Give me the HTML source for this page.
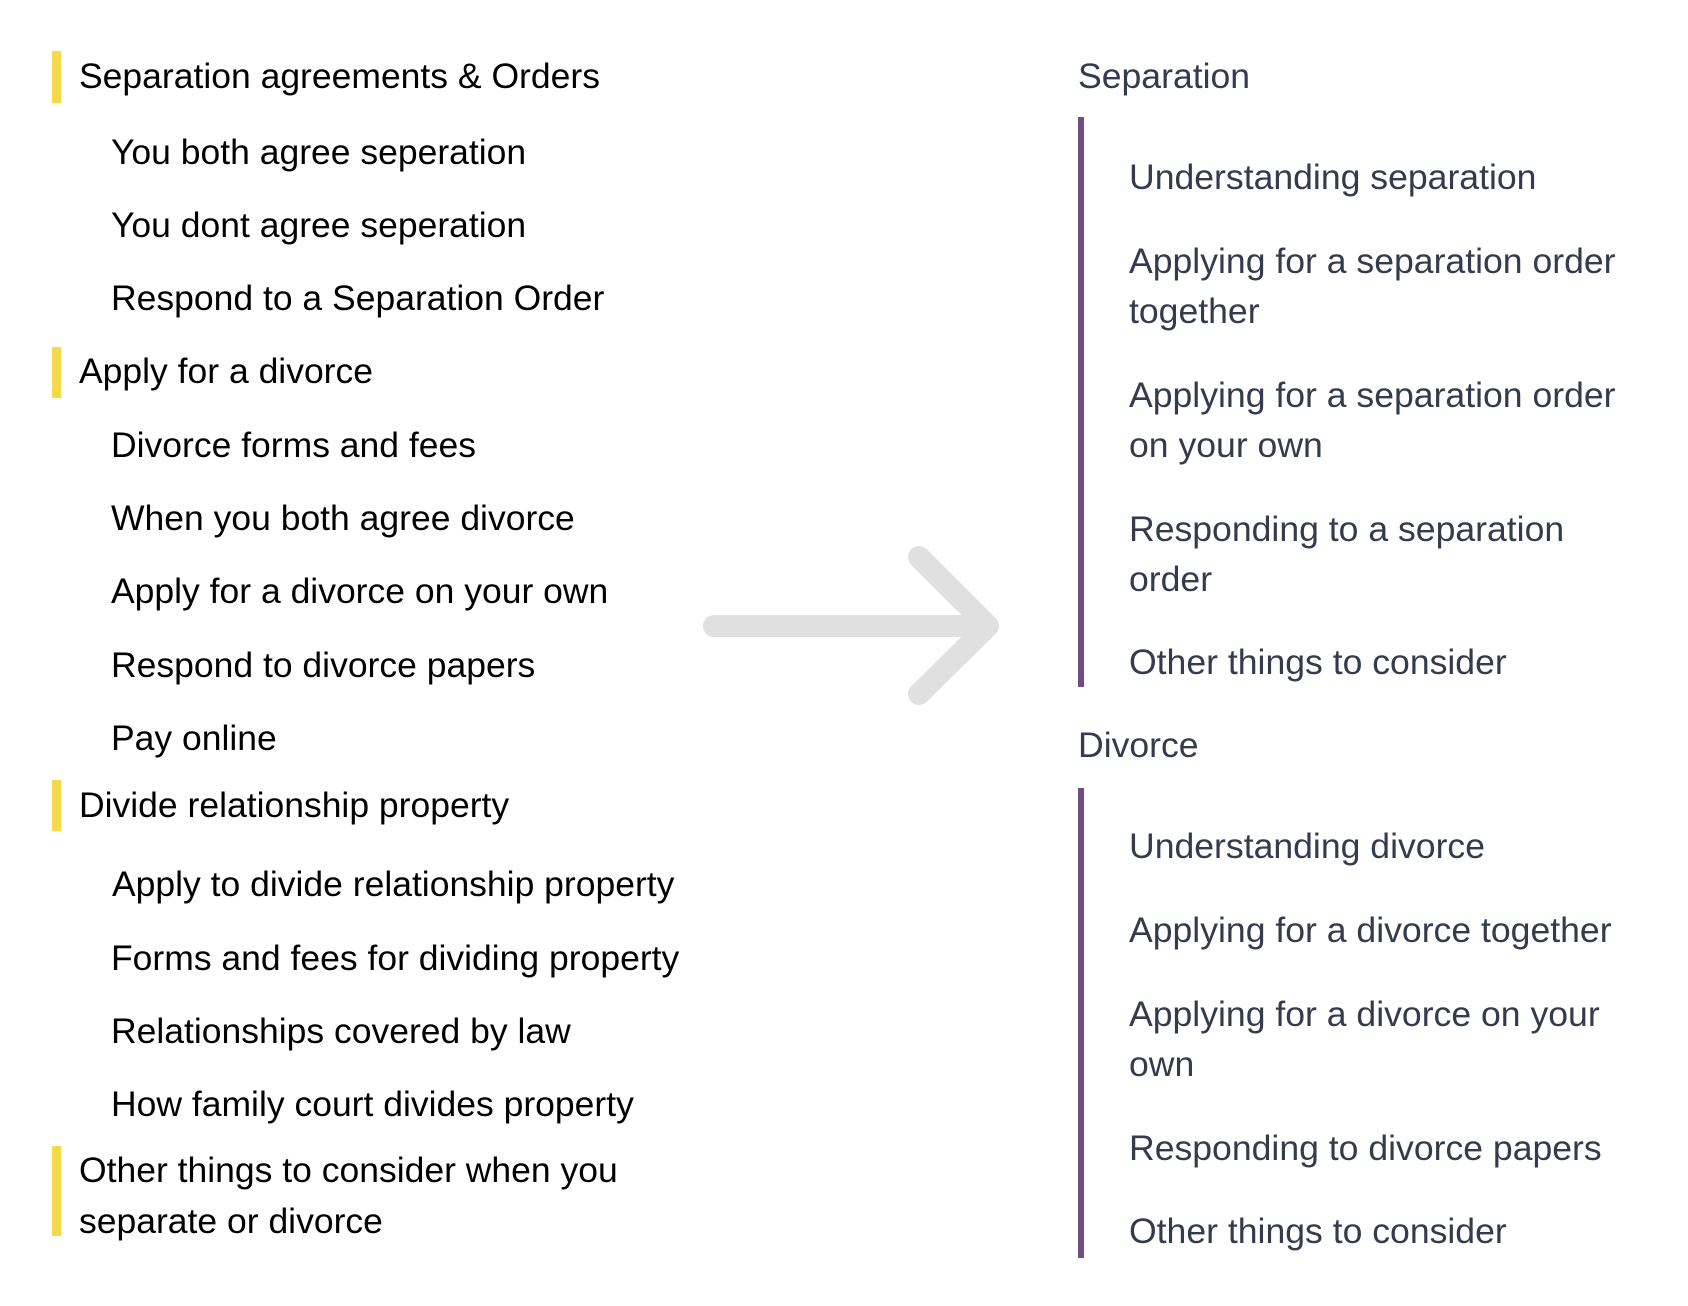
<!DOCTYPE html>
<html><head><meta charset="utf-8"><style>
html,body{margin:0;padding:0;background:#fff;}
body{width:1688px;height:1306px;position:relative;overflow:hidden;}
.t{position:absolute;white-space:nowrap;font-family:"Liberation Sans",sans-serif;line-height:50px;height:50px;}
.l{font-size:35.5px;color:#000;}
.r{font-size:35.6px;color:#333b4d;}
.y{position:absolute;left:52px;width:9px;background:#f5d94a;}
.p{position:absolute;left:1078px;width:6px;background:#6e4e85;}
</style></head><body>
<div class="y" style="top:51px;height:52px"></div>
<div class="y" style="top:347px;height:51px"></div>
<div class="y" style="top:780px;height:51px"></div>
<div class="y" style="top:1146px;height:90px"></div>

<div class="t l" style="left:79px;top:51px">Separation agreements &amp; Orders</div>
<div class="t l" style="left:111px;top:127px">You both agree seperation</div>
<div class="t l" style="left:111px;top:200px">You dont agree seperation</div>
<div class="t l" style="left:111px;top:273px">Respond to a Separation Order</div>
<div class="t l" style="left:79px;top:346px">Apply for a divorce</div>
<div class="t l" style="left:111px;top:420px">Divorce forms and fees</div>
<div class="t l" style="left:111px;top:493px">When you both agree divorce</div>
<div class="t l" style="left:111px;top:566px">Apply for a divorce on your own</div>
<div class="t l" style="left:111px;top:640px">Respond to divorce papers</div>
<div class="t l" style="left:111px;top:713px">Pay online</div>
<div class="t l" style="left:79px;top:780px">Divide relationship property</div>
<div class="t l" style="left:112px;top:859px">Apply to divide relationship property</div>
<div class="t l" style="left:111px;top:933px">Forms and fees for dividing property</div>
<div class="t l" style="left:111px;top:1006px">Relationships covered by law</div>
<div class="t l" style="left:111px;top:1079px">How family court divides property</div>
<div class="t l" style="left:79px;top:1145px">Other things to consider when you</div>
<div class="t l" style="left:79px;top:1196px">separate or divorce</div>

<svg style="position:absolute;left:0;top:0" width="1688" height="1306">
<g stroke="#e0e0e0" stroke-width="22" stroke-linecap="round" stroke-linejoin="round" fill="none">
<line x1="714" y1="626" x2="986" y2="626"/>
<polyline points="919,557 988,626 919,694"/>
</g></svg>

<div class="p" style="top:117px;height:570px"></div>
<div class="p" style="top:788px;height:470px"></div>

<div class="t r" style="left:1078px;top:51px">Separation</div>
<div class="t r" style="left:1129px;top:152px">Understanding separation</div>
<div class="t r" style="left:1129px;top:236px">Applying for a separation order</div>
<div class="t r" style="left:1129px;top:286px">together</div>
<div class="t r" style="left:1129px;top:370px">Applying for a separation order</div>
<div class="t r" style="left:1129px;top:420px">on your own</div>
<div class="t r" style="left:1129px;top:504px">Responding to a separation</div>
<div class="t r" style="left:1129px;top:554px">order</div>
<div class="t r" style="left:1129px;top:637px">Other things to consider</div>
<div class="t r" style="left:1078px;top:720px">Divorce</div>
<div class="t r" style="left:1129px;top:821px">Understanding divorce</div>
<div class="t r" style="left:1129px;top:905px">Applying for a divorce together</div>
<div class="t r" style="left:1129px;top:989px">Applying for a divorce on your</div>
<div class="t r" style="left:1129px;top:1039px">own</div>
<div class="t r" style="left:1129px;top:1123px">Responding to divorce papers</div>
<div class="t r" style="left:1129px;top:1206px">Other things to consider</div>
</body></html>
